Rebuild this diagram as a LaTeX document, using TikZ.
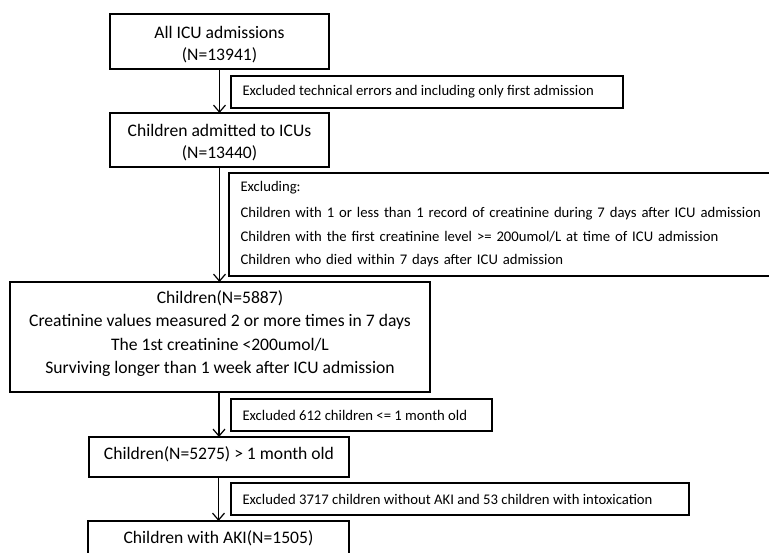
\documentclass[tikz,border=0pt]{standalone}
\usepackage{fontspec}
\setmainfont{Carlito}
\usetikzlibrary{arrows.meta}
\begin{document}
\begin{tikzpicture}[x=1pt,y=-1pt]
\tikzset{
  mainbox/.style={draw=black, line width=1.5pt, inner sep=0pt, outer sep=0pt},
  maintext/.style={inner sep=0pt, outer sep=0pt, align=center, font=\fontsize{17.6}{22.5}\selectfont},
  exclbox/.style={draw=black, line width=1.5pt, inner xsep=11.5pt, inner ysep=0pt, outer sep=0pt,
    align=left, anchor=west, font=\fontsize{14.7}{23.5}\selectfont},
  flow/.style={line width=1.2pt, -{Straight Barb[length=7pt,width=12pt,line width=1.2pt]}}
}
\useasboundingbox (0,0) rectangle (769,553);
\clip (0,0) rectangle (769,553);
\fill[white] (0,0) rectangle (769,553);

\node[mainbox, minimum width=219pt, minimum height=55pt] (b1) at (219.5,41.5) {};
\node[maintext] (b1t) at (219.5,44.5) {All ICU admissions\\(N=13941)};
\node[exclbox, minimum height=32pt] (e1) at (231,92) {\makebox[369pt][l]{Excluded technical errors and including only first admission}};
\node[mainbox, minimum width=219pt, minimum height=54pt] (b2) at (219.5,140) {};
\node[maintext] (b2t) at (219.5,142.5) {Children admitted to ICUs\\(N=13440)};
\node[exclbox, text width=560pt, minimum height=103pt] (e2) at (229,224.5) {Excluding:\\[2.5pt]
Children with 1 or less than 1 record of creatinine during 7 days after ICU admission\\
Children with the first creatinine level >= 200umol/L at time of ICU admission\\
Children who died within 7 days after ICU admission};
\node[mainbox, minimum width=420pt, minimum height=110pt] (b3) at (220,337) {};
\node[maintext, font=\fontsize{17.6}{23.4}\selectfont] (b3t) at (220,333.5) {Children(N=5887)\\Creatinine values measured 2 or more times in 7 days\\The 1st creatinine <200umol/L\\Surviving longer than 1 week after ICU admission};
\node[exclbox, minimum height=32pt] (e3) at (231,415) {\makebox[238pt][l]{Excluded 612 children <= 1 month old}};
\node[mainbox, minimum width=260pt, minimum height=40pt] (b4) at (219,457) {};
\node[maintext] (b4t) at (219,454.5) {Children(N=5275) > 1 month old};
\node[exclbox, minimum height=32pt] (e4) at (231,499) {\makebox[435pt][l]{Excluded 3717 children without AKI and 53 children with intoxication}};
\node[mainbox, minimum width=261pt, minimum height=36pt] (b5) at (218.5,539) {};
\node[maintext] (b5t) at (218.5,538) {Children with AKI(N=1505)};

\draw[flow] (b1.south) -- (b2.north);
\draw[flow] (b2.south) -- (b2.south |- b3.north);
\draw[flow] (b4.north |- b3.south) -- (b4.north);
\draw[flow] (b5.north |- b4.south) -- (b5.north);
\end{tikzpicture}
\end{document}
